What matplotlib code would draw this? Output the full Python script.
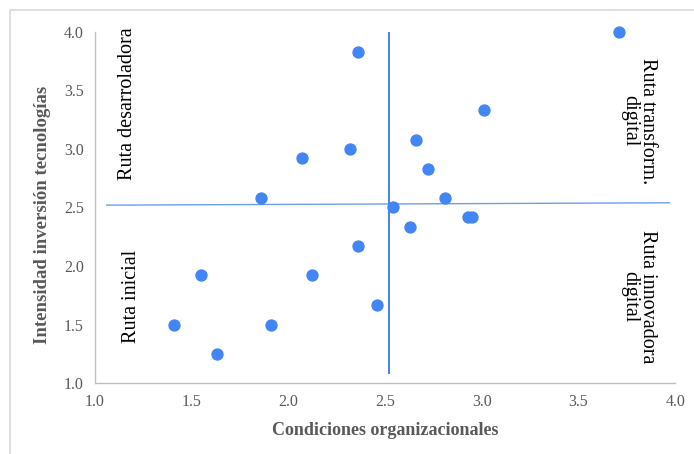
import matplotlib.pyplot as plt
from matplotlib.patches import Rectangle

# condiciones organizacionales (x) vs intensidad inversion (y)
cond = [3.71, 2.36, 3.01, 2.66, 2.32, 2.07, 2.72, 1.86, 2.81, 2.54,
        2.93, 2.95, 2.63, 2.36, 1.55, 2.12, 2.46, 1.41, 1.91, 1.63]
inten = [4.00, 3.83, 3.33, 3.08, 3.00, 2.92, 2.83, 2.58, 2.58, 2.50,
         2.42, 2.42, 2.33, 2.17, 1.92, 1.92, 1.67, 1.50, 1.50, 1.25]

# lineas divisorias de cuadrantes
hline_x = [1.06, 3.97]
hline_y = [2.52, 2.54]
vline_x = [2.52, 2.52]
vline_y = [1.09, 3.99]

xticks = [1.0, 1.5, 2.0, 2.5, 3.0, 3.5, 4.0]
yticks = [1.0, 1.5, 2.0, 2.5, 3.0, 3.5, 4.0]

plt.rcParams['font.family'] = ['Liberation Serif', 'DejaVu Serif']

fig = plt.figure(figsize=(6.94, 4.54), dpi=100)
ax = fig.add_axes([0.137, 0.156, 0.836, 0.774])

# marco gris exterior
fig.patches.append(Rectangle((10/694, -0.05), 1.0, 1 - 10/454 + 0.05,
                             transform=fig.transFigure, fill=False,
                             edgecolor='#d9d9d9', lw=1.2))

ax.plot(hline_x, hline_y, color='#6d9eeb', lw=1.0, zorder=1)
ax.plot(vline_x, vline_y, color='#4a86e8', lw=1.5, zorder=1)
ax.scatter(cond, inten, s=62, color='#4285f4', zorder=3, clip_on=False)

ax.set_xlim(1.0, 4.0)
ax.set_ylim(1.0, 4.0)
ax.set_xticks(xticks)
ax.set_yticks(yticks)
ax.set_xticklabels(['%.1f' % t for t in xticks])
ax.set_yticklabels(['%.1f' % t for t in yticks])
ax.tick_params(length=0, labelsize=11.5, labelcolor='#595959', pad=8)

for s in ['top', 'right']:
    ax.spines[s].set_visible(False)
for s in ['left', 'bottom']:
    ax.spines[s].set_color('#bfbfbf')
    ax.spines[s].set_linewidth(1.0)

ax.set_xlabel('Condiciones organizacionales', fontsize=13, fontweight='bold',
              color='#595959')
ax.set_ylabel('Intensidad inversión tecnologías', fontsize=13.5, fontweight='bold',
              color='#595959')
ax.xaxis.set_label_coords(290/580, -(430 - 383)/351, transform=ax.transAxes)
ax.yaxis.set_label_coords(-(95 - 42)/580, 1 - (215 - 32)/351, transform=ax.transAxes)
ax.xaxis.label.set_va('center')
ax.yaxis.label.set_va('center')

ax.text(1.166, 4.04, 'Ruta desarroladora', rotation=90, ha='center', va='top',
        fontsize=14.5, clip_on=False)
ax.text(1.186, 1.744, 'Ruta inicial', rotation=90, ha='center', va='center',
        fontsize=14.5)
ax.text(3.81, 3.24, 'Ruta transform.\ndigital', rotation=-90, ha='center',
        va='center', multialignment='center', fontsize=14.5, linespacing=0.95)
ax.text(3.81, 1.74, 'Ruta innovadora\ndigital', rotation=-90, ha='center',
        va='center', multialignment='center', fontsize=14.5, linespacing=0.95)

fig.savefig('out.png', dpi=100)
